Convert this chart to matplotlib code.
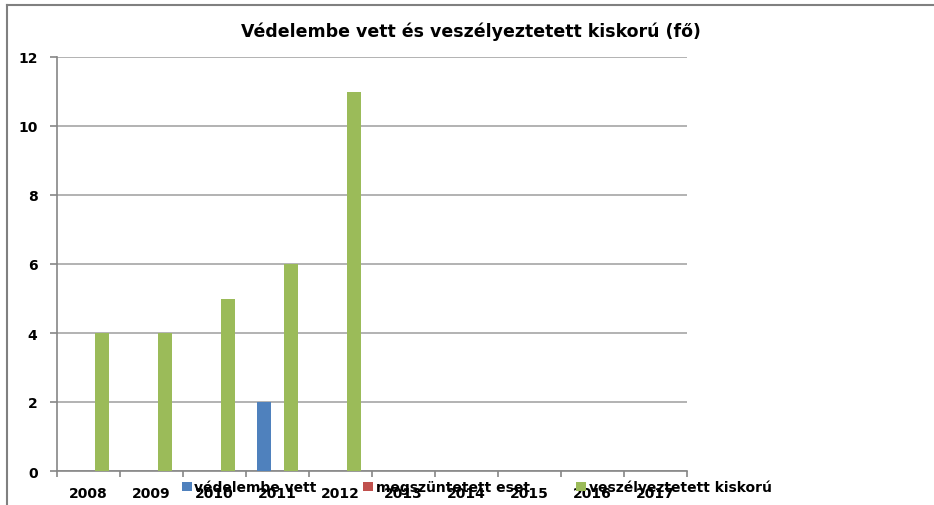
import matplotlib
matplotlib.use("Agg")
from matplotlib import pyplot as plt
from matplotlib.lines import Line2D
import numpy as np

# adatok
evek = ["2008", "2009", "2010", "2011", "2012", "2013", "2014", "2015", "2016", "2017"]
vedelembe_vett = [0, 0, 0, 2, 0, 0, 0, 0, 0, 0]
megszuntetett_eset = [0, 0, 0, 0, 0, 0, 0, 0, 0, 0]
veszelyeztetett = [4, 4, 5, 6, 11, 0, 0, 0, 0, 0]

sorozatok = ["védelembe vett", "megszüntetett eset", "veszélyeztetett kiskorú"]
szinek = ["#4F81BD", "#C0504D", "#9BBB59"]

W, H = 934, 506
fig = plt.figure(figsize=(W / 100, H / 100), dpi=100)
ax = fig.add_axes([57 / W, 1 - 472 / H, (687 - 57) / W, (472 - 58) / H])

x = np.arange(len(evek))
szel = 0.21
eltol = [-0.215, 0, 0.215]
for adat, nev, szin, dx in zip([vedelembe_vett, megszuntetett_eset, veszelyeztetett],
                               sorozatok, szinek, eltol):
    ax.bar(x + dx, adat, width=szel, color=szin, label=nev, zorder=3)

ax.set_ylim(0, 12)
ax.set_yticks(range(0, 13, 2))
ax.set_xlim(-0.5, len(evek) - 0.5)
ax.grid(axis="y", color="#a6a6a6", linewidth=1.2, zorder=0)

# x tengely: jelek a kategóriák határán, feliratok középen
ax.set_xticks(np.arange(-0.5, len(evek), 1))
ax.set_xticklabels([])
ax.set_xticks(x, minor=True)
ax.set_xticklabels(evek, minor=True, fontweight="bold", fontsize=10)
ax.tick_params(axis="x", which="minor", length=0, pad=11)
ax.tick_params(axis="x", which="major", length=4, color="#868686", width=1.2)
ax.tick_params(axis="y", length=5, color="#868686", width=1.2, pad=9,
               labelsize=10)
for t in ax.get_yticklabels():
    t.set_fontweight("bold")

for s in ["top", "right"]:
    ax.spines[s].set_visible(False)
for s in ["left", "bottom"]:
    ax.spines[s].set_color("#868686")
    ax.spines[s].set_linewidth(1.2)

fig.text(471 / W, 1 - 32 / H, "Védelembe vett és veszélyeztetett kiskorú (fő)",
         ha="center", va="center", fontsize=12.5, fontweight="bold")

# a jelmagyarázat az eredetihez hasonlóan rálóg az évszámokra
fig.legend(loc="center left", bbox_to_anchor=(182 / W, 1 - 488 / H), ncol=3,
           frameon=False, prop={"weight": "bold", "size": 10},
           handlelength=0.7, handleheight=0.7, handletextpad=0.2,
           columnspacing=3.35, borderpad=0, borderaxespad=0)

# keret
fig.add_artist(Line2D([7 / W, 7 / W], [0, 1 - 6 / H], transform=fig.transFigure,
                      color="#808080", linewidth=1.5))
fig.add_artist(Line2D([7 / W, 1], [1 - 6 / H, 1 - 6 / H], transform=fig.transFigure,
                      color="#808080", linewidth=1.5))

fig.savefig("out.png", dpi=100)
